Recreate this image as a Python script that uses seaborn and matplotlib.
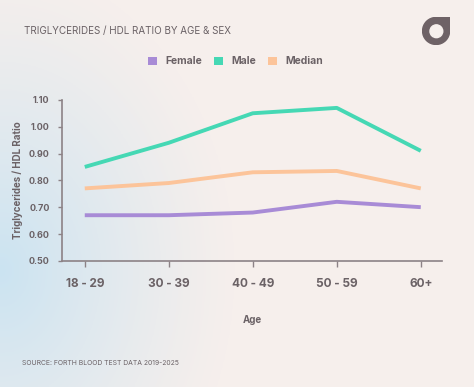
import numpy as np
import pandas as pd
import matplotlib.pyplot as plt
import seaborn as sns
from matplotlib.patches import Patch, Circle

# data
ages = ["18 - 29", "30 - 39", "40 - 49", "50 - 59", "60+"]
female = [0.67, 0.67, 0.68, 0.72, 0.70]
male = [0.85, 0.94, 1.05, 1.07, 0.91]
median = [0.77, 0.79, 0.83, 0.835, 0.77]
groups = ["Female", "Male", "Median"]
colors = {"Female": "#a88bd6", "Male": "#45d8b4", "Median": "#fcc49a"}

df = pd.DataFrame({
    "age": ages * 3,
    "ratio": female + male + median,
    "group": ["Female"] * 5 + ["Male"] * 5 + ["Median"] * 5,
})

sns.set_theme(style="ticks")
plt.rcParams["font.family"] = ["Inter", "DejaVu Sans"]
txt = "#6b6266"
bg = "#f6efec"

fig = plt.figure(figsize=(4.74, 3.87), dpi=100)
fig.patch.set_facecolor(bg)

# soft blue glow bottom-left
bga = fig.add_axes([0, 0, 1, 1], zorder=-10)
yy, xx = np.mgrid[0:1:200j, 0:1:200j]
d = np.sqrt((xx / 0.5) ** 2 + ((yy - 0.3) / 0.8) ** 2)
a = np.clip(1 - d, 0, 1) ** 1.2
img = np.zeros((200, 200, 4))
img[..., 0] = 0.78
img[..., 1] = 0.89
img[..., 2] = 0.95
img[..., 3] = a * 0.9
bga.imshow(img, origin="lower", extent=[0, 1, 0, 1], aspect="auto")
bga.set_xlim(0, 1)
bga.set_ylim(0, 1)
bga.axis("off")

ax = fig.add_axes([0.131, 0.326, 0.801, 0.416])
ax.set_facecolor("none")
sns.lineplot(data=df, x="age", y="ratio", hue="group", palette=colors,
             linewidth=2.8, ax=ax, legend=False, sort=False)
for ln in ax.lines:
    ln.set_solid_capstyle("butt")

ax.set_ylim(0.5, 1.1)
ax.set_xlim(-0.27, 4.25)
ax.set_yticks(np.arange(0.5, 1.11, 0.1))
ax.set_yticklabels([f"{v:.2f}" for v in np.arange(0.5, 1.11, 0.1)])
sns.despine(ax=ax)
for s in ["left", "bottom"]:
    ax.spines[s].set_color("#8c8286")
    ax.spines[s].set_linewidth(1.2)
ax.tick_params(axis="y", length=3, width=1, color="#8c8286", labelsize=6.5,
               labelcolor=txt, pad=6)
ax.tick_params(axis="x", length=4, width=1, color="#8c8286", labelsize=8.5,
               labelcolor=txt, pad=8)
for lab in ax.get_xticklabels() + ax.get_yticklabels():
    lab.set_fontweight("bold")
ax.set_xlabel("Age", fontsize=7, fontweight="bold", color=txt, labelpad=18)
ax.set_ylabel("Triglycerides / HDL Ratio", fontsize=7, fontweight="bold",
              color=txt, labelpad=4)

fig.text(0.051, 0.92, "TRIGLYCERIDES / HDL RATIO BY AGE & SEX", fontsize=7.1,
         color=txt, va="center", ha="left")
fig.text(0.046, 0.063, "SOURCE: FORTH BLOOD TEST DATA 2019-2025", fontsize=4.9,
         color=txt, va="center", ha="left")

handles = [Patch(facecolor=colors[g], edgecolor="none", label=g) for g in groups]
leg = fig.legend(handles=handles, loc="center", bbox_to_anchor=(0.497, 0.842),
                 ncol=3, frameon=False, handlelength=0.8, handleheight=0.8,
                 handletextpad=0.8, columnspacing=1.2,
                 prop={"size": 7.5, "weight": "bold"})
for t in leg.get_texts():
    t.set_color(txt)

# logo
la = fig.add_axes([0.89, 0.88, 0.06, 0.08])
la.set_xlim(-1, 1)
la.set_ylim(-1, 1)
la.set_aspect("equal")
la.axis("off")
la.add_patch(Circle((0, 0), 0.95, color="#6e6266"))
la.add_patch(plt.Rectangle((0, 0), 0.95, 0.95, color="#6e6266"))
la.add_patch(Circle((0.02, -0.02), 0.45, color=bg))

fig.savefig("out.png", dpi=100, facecolor=bg)
